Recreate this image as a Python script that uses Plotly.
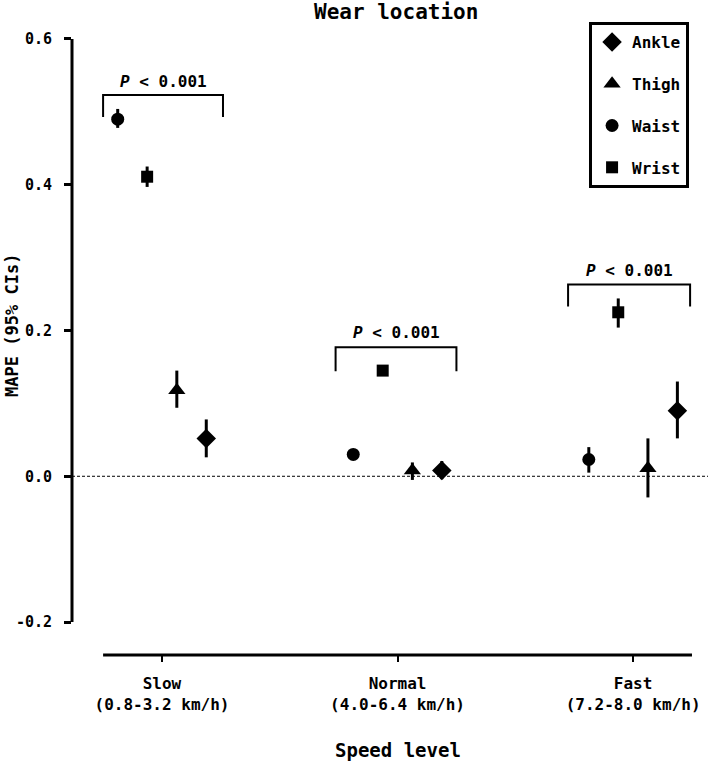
import plotly.graph_objects as go

# ---- data ----
speed_levels = ["Slow<br>(0.8-3.2 km/h)", "Normal<br>(4.0-6.4 km/h)", "Fast<br>(7.2-8.0 km/h)"]
locations = ["Waist", "Wrist", "Thigh", "Ankle"]
offsets = {"Waist": -0.188, "Wrist": -0.063, "Thigh": 0.063, "Ankle": 0.188}
symbols = {"Waist": "circle", "Wrist": "square", "Thigh": "triangle-up", "Ankle": "diamond"}
sizes = {"Waist": 13, "Wrist": 12, "Thigh": 15, "Ankle": 15}

mape = {
    "Waist": [0.490, 0.030, 0.023],
    "Wrist": [0.411, 0.145, 0.225],
    "Thigh": [0.118, 0.008, 0.011],
    "Ankle": [0.052, 0.008, 0.090],
}
ci_low = {
    "Waist": [0.478, 0.026, 0.005],
    "Wrist": [0.397, 0.141, 0.204],
    "Thigh": [0.094, -0.005, -0.029],
    "Ankle": [0.026, -0.004, 0.052],
}
ci_high = {
    "Waist": [0.504, 0.034, 0.040],
    "Wrist": [0.425, 0.149, 0.244],
    "Thigh": [0.145, 0.019, 0.052],
    "Ankle": [0.078, 0.021, 0.130],
}
y_ticks = [-0.2, 0.0, 0.2, 0.4, 0.6]
y_tick_text = ["-0.2", "0.0", "0.2", "0.4", "0.6"]

# significance brackets: (x_left, x_right, top, leg_bottom, label_y)
brackets = [
    (-0.25, 0.259, 0.523, 0.493, 0.542),
    (0.737, 1.25, 0.177, 0.144, 0.197),
    (1.724, 2.242, 0.263, 0.233, 0.282),
]
p_label = "<i>P</i> < 0.001"

FONT = "DejaVu Sans Mono"

fig = go.Figure()
legend_order = ["Ankle", "Thigh", "Waist", "Wrist"]
for loc in locations:
    xs = [i + offsets[loc] for i in range(len(speed_levels))]
    plus = [h - m for h, m in zip(ci_high[loc], mape[loc])]
    minus = [m - l for m, l in zip(mape[loc], ci_low[loc])]
    fig.add_trace(go.Scatter(
        x=xs, y=mape[loc], mode="markers", name=loc,
        legendgroup=loc, legendrank=legend_order.index(loc) + 1,
        marker=dict(symbol=symbols[loc], size=sizes[loc], color="black"),
        error_y=dict(type="data", symmetric=False, array=plus, arrayminus=minus,
                     thickness=3, width=0, color="black"),
    ))

shapes = []
# y axis line
shapes.append(dict(type="line", xref="paper", yref="y", x0=0, x1=0, y0=-0.2, y1=0.6,
                   line=dict(color="black", width=3)))
# x axis line
shapes.append(dict(type="line", xref="x", yref="paper", x0=-0.25, x1=2.25, y0=0, y1=0,
                   line=dict(color="black", width=3)))
# zero line
shapes.append(dict(type="line", xref="paper", yref="y", x0=0, x1=1, y0=0, y1=0,
                   line=dict(color="black", width=1, dash="3px,2px")))
annotations = []
for (xl, xr, top, bot, ly) in brackets:
    shapes.append(dict(type="path", xref="x", yref="y",
                       path=f"M {xl},{bot} L {xl},{top} L {xr},{top} L {xr},{bot}",
                       line=dict(color="black", width=2)))
    annotations.append(dict(x=(xl + xr) / 2, y=ly, xref="x", yref="y", text=p_label,
                            showarrow=False,
                            font=dict(family=FONT, size=16, color="black", weight="bold")))

annotations.append(dict(x=0.509, y=1.0288, xref="paper", yref="paper", text="Wear location",
                        showarrow=False, yanchor="middle",
                        font=dict(family=FONT, size=21, color="black", weight="bold")))
annotations.append(dict(x=0.5126, y=-0.152, xref="paper", yref="paper", text="Speed level",
                        showarrow=False, yanchor="middle",
                        font=dict(family=FONT, size=19, color="black", weight="bold")))
annotations.append(dict(x=-0.0945, y=0.528, xref="paper", yref="paper", text="MAPE (95% CIs)",
                        showarrow=False, textangle=-90, xanchor="center", yanchor="middle",
                        font=dict(family=FONT, size=17, color="black", weight="bold")))

fig.update_layout(
    width=708, height=761,
    margin=dict(l=72, r=0, t=30, b=106),
    plot_bgcolor="white", paper_bgcolor="white",
    showlegend=True,
    legend=dict(x=0.813, y=1.0128, xanchor="left", yanchor="top",
                bordercolor="black", borderwidth=3, bgcolor="white",
                tracegroupgap=18,
                font=dict(family=FONT, size=16, color="black", weight="bold")),
    shapes=shapes, annotations=annotations,
    font=dict(family=FONT, color="black"),
)
fig.update_xaxes(range=[-0.382, 2.318], tickvals=[0, 1, 2], ticktext=speed_levels,
                 ticks="outside", ticklen=6, tickwidth=2, tickcolor="black",
                 ticklabelstandoff=8,
                 showline=False, showgrid=False, zeroline=False,
                 tickfont=dict(family=FONT, size=16, color="black", weight="bold"))
fig.update_yaxes(range=[-0.2452, 0.6123], tickvals=y_ticks, ticktext=y_tick_text,
                 ticks="outside", ticklen=7, tickwidth=3, tickcolor="black",
                 ticklabelstandoff=9,
                 showline=False, showgrid=False, zeroline=False,
                 tickfont=dict(family=FONT, size=15, color="black", weight="bold"))

fig.write_html("out.html", config={"displayModeBar": False},
               post_script="document.body.style.margin='0';")
